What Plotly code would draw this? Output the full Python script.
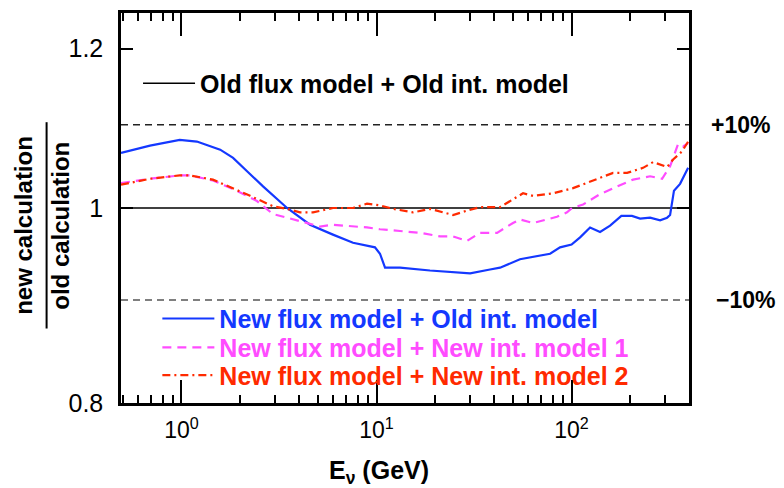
import math
import plotly.graph_objects as go

# Neutrino energy (GeV) and ratio new/old calculation for each model combination
E_LIMITS = [0.49, 400]
OLD_RATIO = [1.0, 1.0]

BLUE_E = [0.49, 0.69, 0.98, 1.20, 1.58, 1.84, 2.17, 2.62, 3.48, 4.56, 5.98, 7.58,
          9.82, 10.42, 11.06, 13.2, 18.8, 26.8, 30.2, 38.2, 43.0, 54.4, 77.6, 87.3,
          100.0, 110.6, 124.4, 140.0, 157.6, 180.0, 204.0, 224.6, 252.7, 284.4,
          308.9, 320.0, 335.0, 360.0, 396.0]
BLUE_R = [1.065, 1.074, 1.081, 1.079, 1.069, 1.059, 1.043, 1.025, 1.000, 0.981, 0.970, 0.961,
          0.956, 0.949, 0.934, 0.934, 0.931, 0.929, 0.928, 0.932, 0.934, 0.943, 0.949, 0.956,
          0.959, 0.967, 0.978, 0.973, 0.980, 0.991, 0.991, 0.988, 0.989, 0.986,
          0.989, 0.992, 1.020, 1.028, 1.047]

MAG_E = [0.49, 0.69, 0.98, 1.106, 1.45, 1.84, 2.44, 2.95, 3.48, 4.40, 5.13, 5.98, 7.06,
         8.94, 10.42, 12.15, 13.2, 16.7, 21.2, 24.7, 29.1, 34.0, 41.5, 50.1, 54.4, 63.5,
         84.2, 94.8, 100.6, 114.6, 140.0, 171.2, 206.7, 252.7, 291.2, 320.0, 351.7,
         373.1, 396.0]
MAG_R = [1.029, 1.034, 1.038, 1.038, 1.032, 1.022, 1.008, 0.993, 0.989, 0.983, 0.979, 0.981, 0.980,
         0.978, 0.976, 0.975, 0.974, 0.972, 0.968, 0.968, 0.963, 0.972, 0.972, 0.983, 0.987, 0.983,
         0.990, 0.995, 1.000, 1.004, 1.016, 1.025, 1.033, 1.037, 1.034, 1.049, 1.076,
         1.073, 1.077]

RED_E = [0.49, 0.69, 0.98, 1.106, 1.45, 1.84, 2.25, 2.95, 3.48, 4.05, 4.73, 5.98, 7.58,
         8.94, 10.42, 12.15, 15.39, 18.81, 24.68, 29.11, 33.95, 43.0, 56.4, 63.5, 80.4,
         101.8, 128.9, 163.3, 192.6, 232.6, 261.8, 308.9, 331.6, 368.7, 396.0]
RED_R = [1.027, 1.034, 1.038, 1.038, 1.033, 1.023, 1.014, 1.002, 0.999, 0.995, 0.995, 1.000, 1.000,
         1.005, 1.003, 0.999, 0.995, 0.999, 0.992, 0.997, 1.001, 1.001, 1.017, 1.014, 1.017,
         1.023, 1.032, 1.041, 1.041, 1.047, 1.054, 1.048, 1.057, 1.067, 1.079]

BAND = [1.1, 0.9]
BAND_LABELS = ["+10%", "\u221210%"]

X_TICKS = [1, 10, 100]
X_TICKTEXT = ["10<sup>0</sup>", "10<sup>1</sup>", "10<sup>2</sup>"]
X_MINOR = [0.5, 0.6, 0.7, 0.8, 0.9, 2, 3, 4, 5, 6, 7, 8, 9,
           20, 30, 40, 50, 60, 70, 80, 90, 200, 300, 400]
Y_TICKS = [0.8, 1.0, 1.2]
Y_TICKTEXT = ["0.8", "1", "1.2"]

BLUE = "#1438ff"
MAGENTA = "#ff4cff"
RED = "#ff2a00"
FONT = "Liberation Sans"

fig = go.Figure()

fig.add_trace(go.Scatter(
    x=E_LIMITS, y=OLD_RATIO, mode="lines", legend="legend",
    line=dict(color="black", width=1.5),
    name="Old flux model + Old int. model"))
fig.add_trace(go.Scatter(
    x=BLUE_E, y=BLUE_R, mode="lines", legend="legend2",
    line=dict(color=BLUE, width=2.2),
    name="New flux model + Old int. model"))
fig.add_trace(go.Scatter(
    x=MAG_E, y=MAG_R, mode="lines", legend="legend3",
    line=dict(color=MAGENTA, width=2.2, dash="9px,6px"),
    name="New flux model + New int. model 1"))
fig.add_trace(go.Scatter(
    x=RED_E, y=RED_R, mode="lines", legend="legend4",
    line=dict(color=RED, width=2.2, dash="8px,4px,2px,4px"),
    name="New flux model + New int. model 2"))

# +/-10% band lines and labels
for val, lab, col, xl in zip(BAND, BAND_LABELS, ["#222222", "#555555"], [1.035, 1.044]):
    fig.add_shape(type="line", xref="paper", x0=0, x1=1, yref="y", y0=val, y1=val,
                  line=dict(color=col, width=1.5, dash="7px,5px"), layer="below")
    fig.add_annotation(xref="paper", x=xl, xanchor="left", yref="y",
                       y=math.log10(val), yanchor="middle", showarrow=False, text=lab,
                       font=dict(family=FONT, size=23, color="black", weight="bold"))

# y-axis title written as a fraction
fig.add_annotation(xref="paper", x=-0.172, xanchor="center", yref="paper", y=0.455,
                   yanchor="middle", textangle=-90, showarrow=False, text="new calculation",
                   font=dict(family=FONT, size=24, color="black", weight="bold"))
fig.add_annotation(xref="paper", x=-0.107, xanchor="center", yref="paper", y=0.455,
                   yanchor="middle", textangle=-90, showarrow=False, text="old calculation",
                   font=dict(family=FONT, size=24, color="black", weight="bold"))
fig.add_shape(type="line", xref="paper", yref="paper", x0=-0.131, x1=-0.131,
              y0=0.191, y1=0.720, line=dict(color="black", width=2))

# x-axis title
fig.add_annotation(xref="paper", x=0.454, xanchor="center", yref="paper", y=-0.176,
                   yanchor="middle", showarrow=False,
                   text="E<sub>\u03bd</sub> (GeV)",
                   font=dict(family=FONT, size=25, color="black", weight="bold"))


def legend_box(y, color):
    return dict(x=0.0, y=y, xanchor="left", yanchor="middle", bgcolor="rgba(0,0,0,0)",
                borderwidth=0, itemwidth=52, tracegroupgap=0,
                font=dict(family=FONT, size=25, color=color, weight="bold"))


fig.update_layout(
    width=784, height=488,
    margin=dict(l=121, r=95, t=10, b=85),
    paper_bgcolor="white", plot_bgcolor="white",
    showlegend=True,
    legend=legend_box(0.819, "black") | dict(x=0.03),
    legend2=legend_box(0.216, BLUE) | dict(x=0.064),
    legend3=legend_box(0.142, MAGENTA) | dict(x=0.064),
    legend4=legend_box(0.071, RED) | dict(x=0.064),
    xaxis=dict(
        type="log", range=[math.log10(E_LIMITS[0]), math.log10(E_LIMITS[1])],
        tickvals=X_TICKS, ticktext=X_TICKTEXT,
        ticks="inside", ticklen=23, tickwidth=1.5, tickcolor="black",
        minor=dict(tickvals=X_MINOR, ticks="inside", ticklen=8, tickwidth=1.5,
                   tickcolor="black", showgrid=False),
        showline=True, linewidth=2.5, linecolor="black", mirror="ticks",
        showgrid=False, zeroline=False, ticklabelstandoff=5,
        tickfont=dict(family=FONT, size=23, color="black"),
    ),
    yaxis=dict(
        type="log", range=[math.log10(0.8), math.log10(1.25)],
        tickvals=Y_TICKS, ticktext=Y_TICKTEXT,
        ticks="inside", ticklen=12, tickwidth=1.5, tickcolor="black",
        showline=True, linewidth=2.5, linecolor="black", mirror="ticks",
        showgrid=False, zeroline=False, ticklabelstandoff=10,
        tickfont=dict(family=FONT, size=25, color="black"),
    ),
)

fig.write_html("out.html")
